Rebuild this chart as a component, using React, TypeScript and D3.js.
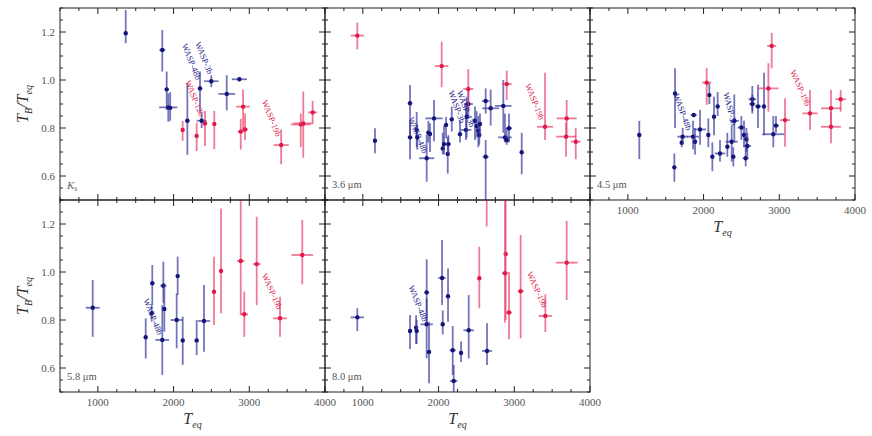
import * as d3 from 'd3';

// rows: [Teq, Teq error, Tb/Teq, lower bound, upper bound]
const ksBlue = [
  [1368, 20, 1.195, 1.153, 1.292],
  [1851, 40, 1.125, 1.035, 1.208],
  [1909, 20, 0.961, 0.875, 1.035],
  [1930, 120, 0.886, 0.826, 0.944],
  [1955, 30, 0.884, 0.83, 0.95],
  [2182, 30, 0.83, 0.688, 0.987],
  [2349, 30, 0.965, 0.862, 1.035],
  [2371, 66, 0.83, 0.8, 0.86],
  [2498, 95, 0.995, 0.97, 1.02],
  [2702, 110, 0.942, 0.874, 1.02],
  [2869, 100, 1.003, 0.995, 1.01],
];
const ksRed = [
  [2120, 15, 0.792, 0.746, 0.829],
  [2305, 15, 0.767, 0.704, 0.822],
  [2415, 25, 0.819, 0.725, 0.871],
  [2538, 15, 0.817, 0.712, 0.871],
  [2887, 40, 0.785, 0.71, 0.838],
  [2918, 90, 0.889, 0.79, 0.96],
  [2944, 40, 0.794, 0.75, 0.86],
  [3421, 100, 0.729, 0.649, 0.794],
  [3680, 130, 0.815, 0.72, 0.86],
  [3713, 130, 0.819, 0.676, 0.952],
  [3837, 60, 0.865, 0.82, 0.913],
];
const i36Blue = [
  [1160, 10, 0.747, 0.695, 0.799],
  [1623, 15, 0.903, 0.771, 0.979],
  [1623, 10, 0.761, 0.67, 0.83],
  [1711, 10, 0.792, 0.72, 0.867],
  [1719, 15, 0.761, 0.71, 0.815],
  [1843, 100, 0.674, 0.576, 0.771],
  [1865, 15, 0.78, 0.74, 0.83],
  [1887, 15, 0.775, 0.7, 0.82],
  [1940, 115, 0.84, 0.745, 0.917],
  [2055, 10, 0.715, 0.69, 0.78],
  [2072, 10, 0.733, 0.69, 0.81],
  [2099, 15, 0.813, 0.757, 0.847],
  [2121, 10, 0.692, 0.61, 0.763],
  [2130, 30, 0.733, 0.69, 0.77],
  [2174, 15, 0.836, 0.785, 0.889],
  [2283, 15, 0.774, 0.74, 0.83],
  [2362, 70, 0.792, 0.75, 0.9],
  [2371, 15, 0.847, 0.76, 0.93],
  [2393, 60, 0.9, 0.85, 0.965],
  [2481, 15, 0.83, 0.75, 0.89],
  [2503, 15, 0.808, 0.76, 0.87],
  [2525, 15, 0.789, 0.72, 0.85],
  [2538, 15, 0.771, 0.73, 0.82],
  [2547, 15, 0.817, 0.76, 0.86],
  [2622, 50, 0.9125, 0.86, 0.965],
  [2688, 110, 0.882, 0.81, 0.96],
  [2622, 40, 0.68, 0.44, 0.75],
  [2855, 110, 0.892, 0.78, 1.0],
  [2877, 90, 0.761, 0.74, 0.86],
  [2900, 40, 0.75, 0.73, 0.8],
  [2930, 40, 0.799, 0.74, 0.86],
  [3098, 20, 0.699, 0.607, 0.78],
];
const i36Red = [
  [927, 88, 1.185, 1.128, 1.239],
  [2041, 88, 1.058, 0.97, 1.16],
  [2393, 66, 0.9625, 0.875, 1.045],
  [2900, 66, 0.983, 0.917, 1.039],
  [3406, 106, 0.805, 0.75, 1.03],
  [3692, 132, 0.84, 0.764, 0.917],
  [3684, 132, 0.764, 0.68, 0.823],
  [3812, 66, 0.743, 0.67, 0.8],
];
const i45Blue = [
  [1151, 10, 0.771, 0.67, 0.83],
  [1623, 15, 0.944, 0.8, 1.049],
  [1614, 10, 0.636, 0.576, 0.694],
  [1711, 15, 0.739, 0.72, 0.77],
  [1724, 70, 0.764, 0.73, 0.8],
  [1870, 40, 0.854, 0.845, 0.86],
  [1861, 80, 0.764, 0.71, 0.83],
  [1887, 15, 0.743, 0.69, 0.8],
  [1953, 80, 0.794, 0.73, 0.875],
  [2063, 15, 0.771, 0.72, 0.84],
  [2076, 15, 0.937, 0.9, 0.986],
  [2116, 15, 0.68, 0.62, 0.74],
  [2138, 15, 0.847, 0.77, 0.93],
  [2186, 15, 0.89, 0.85, 0.95],
  [2217, 70, 0.694, 0.66, 0.75],
  [2314, 15, 0.722, 0.68, 0.78],
  [2371, 80, 0.743, 0.66, 0.81],
  [2406, 60, 0.83, 0.74, 0.94],
  [2393, 15, 0.68, 0.64, 0.72],
  [2499, 50, 0.802, 0.75, 0.85],
  [2534, 15, 0.771, 0.72, 0.83],
  [2565, 15, 0.753, 0.7, 0.8],
  [2578, 50, 0.725, 0.68, 0.78],
  [2556, 40, 0.674, 0.64, 0.72],
  [2644, 50, 0.92, 0.87, 0.975],
  [2644, 40, 0.9, 0.86, 0.94],
  [2719, 40, 0.89, 0.8, 0.98],
  [2798, 15, 0.89, 0.77, 1.03],
  [2921, 145, 0.774, 0.72, 0.85],
  [2956, 40, 0.81, 0.78, 0.85],
];
const i45Red = [
  [2041, 60, 0.989, 0.896, 1.049],
  [2900, 60, 1.142, 1.049, 1.196],
  [2856, 132, 0.965, 0.868, 1.07],
  [3076, 66, 0.833, 0.722, 0.924],
  [3406, 100, 0.861, 0.792, 0.958],
  [3683, 132, 0.882, 0.812, 0.958],
  [3683, 132, 0.805, 0.736, 0.868],
  [3811, 70, 0.92, 0.868, 0.958],
];
const i58Blue = [
  [932, 92, 0.851, 0.73, 0.967],
  [1632, 10, 0.728, 0.64, 0.807],
  [1711, 15, 0.828, 0.793, 0.862],
  [1719, 15, 0.953, 0.862, 1.029],
  [1851, 90, 0.717, 0.571, 0.862],
  [1865, 40, 0.943, 0.87, 1.043],
  [1878, 15, 0.846, 0.751, 0.953],
  [2041, 80, 0.8, 0.682, 0.911],
  [2054, 10, 0.983, 0.904, 1.064],
  [2121, 20, 0.715, 0.613, 0.814],
  [2305, 20, 0.715, 0.654, 0.8],
  [2402, 80, 0.796, 0.668, 0.946],
];
const i58Red = [
  [2534, 15, 0.918, 0.779, 1.064],
  [2627, 20, 1.004, 0.828, 1.265],
  [2887, 50, 1.046, 0.82, 1.34],
  [2934, 50, 0.824, 0.73, 0.918],
  [3098, 50, 1.033, 0.862, 1.23],
  [3406, 90, 0.807, 0.73, 0.897],
  [3700, 143, 1.071, 0.949, 1.217],
];
const i80Blue = [
  [927, 88, 0.811, 0.754, 0.849],
  [1623, 15, 0.754, 0.679, 0.821],
  [1703, 15, 0.768, 0.7, 0.82],
  [1711, 15, 0.754, 0.7, 0.8],
  [1843, 30, 0.915, 0.793, 1.053],
  [1843, 80, 0.782, 0.64, 0.89],
  [1874, 15, 0.667, 0.536, 0.793],
  [2046, 50, 0.975, 0.862, 1.133],
  [2055, 15, 0.782, 0.74, 0.84],
  [2125, 15, 0.899, 0.793, 1.015],
  [2187, 40, 0.674, 0.571, 0.775],
  [2200, 50, 0.546, 0.48, 0.6125],
  [2297, 15, 0.663, 0.625, 0.71],
  [2398, 70, 0.757, 0.64, 0.904],
  [2640, 66, 0.671, 0.6125, 0.786],
];
const i80Red = [
  [2538, 15, 0.974, 0.849, 1.105],
  [2886, 20, 1.075, 0.8, 1.36],
  [2877, 40, 0.995, 0.79, 1.32],
  [2930, 40, 0.831, 0.72, 1.0],
  [3084, 40, 0.92, 0.724, 1.154],
  [3410, 90, 0.817, 0.75, 0.907],
  [3692, 143, 1.039, 0.883, 1.2125],
  [2636, 10, 1.36, 1.19, 1.5],
];

// planet labels: [Teq, value, colour, text, angle]
const ksNotes = [
  [2107, 1.146, 'blue', 'WASP-48b', 68],
  [2283, 1.153, 'blue', 'WASP-3b', 68],
  [2151, 0.993, 'red', 'WASP-12b', 68],
  [3164, 0.91, 'red', 'WASP-19b', 68],
];
const i36Notes = [
  [1600, 0.84, 'blue', 'WASP-48b', 68],
  [2129, 0.951, 'blue', 'WASP-3b', 70],
  [2240, 0.951, 'blue', 'WASP-43b', 70],
  [3142, 0.979, 'red', 'WASP-19b', 68],
];
const i45Notes = [
  [1600, 0.9375, 'blue', 'WASP-48b', 70],
  [2261, 0.945, 'blue', 'WASP-3b', 76],
  [3142, 1.035, 'red', 'WASP-19b', 66],
];
const i58Notes = [
  [1600, 0.883, 'blue', 'WASP-48b', 68],
  [3164, 0.9875, 'red', 'WASP-19b', 66],
];
const i80Notes = [
  [1600, 0.939, 'blue', 'WASP-48b', 68],
  [3164, 0.995, 'red', 'WASP-19b', 66],
];

const xTickLabels = [1000, 2000, 3000, 4000];
const yTickLabels = [0.6, 0.8, 1.0, 1.2];

const panels = [
  { band: 'Ks', blue: ksBlue, red: ksRed, notes: ksNotes, col: 0, row: 0, yLab: true, xLab: false },
  { band: '3.6 μm', blue: i36Blue, red: i36Red, notes: i36Notes, col: 1, row: 0, yLab: false, xLab: false },
  { band: '4.5 μm', blue: i45Blue, red: i45Red, notes: i45Notes, col: 2, row: 0, yLab: false, xLab: true },
  { band: '5.8 μm', blue: i58Blue, red: i58Red, notes: i58Notes, col: 0, row: 1, yLab: true, xLab: true },
  { band: '8.0 μm', blue: i80Blue, red: i80Red, notes: i80Notes, col: 1, row: 1, yLab: false, xLab: true },
];

const W = 872;
const H = 436;
const PW = 265;
const PH = 192;
const lefts = [60, 325, 590];
const tops = [8, 200];

const x = d3.scaleLinear().domain([500, 4000]).range([0, PW]);
const y = d3.scaleLinear().domain([0.5, 1.3]).range([PH, 0]);

const xMinor = d3.range(500, 4001, 250);
const yMinor = d3.range(0.5, 1.301, 0.05);

const colours = {
  blue: { dot: '#14147a', bar: '#3b3b9e', text: '#1c1c8a' },
  red: { dot: '#e0184a', bar: '#e8406a', text: '#e0184a' },
};

const serif = '"Liberation Serif", "DejaVu Serif", serif';

function Points({ rows, c }) {
  const col = colours[c];
  return (
    <g>
      {rows.map((d, i) => (
        <g key={i}>
          <line x1={x(d[0])} x2={x(d[0])} y1={y(d[3])} y2={y(d[4])}
            stroke={col.bar} strokeWidth={1.8} strokeOpacity={0.7} />
          {d[1] > 0 && (
            <line x1={x(d[0] - d[1])} x2={x(d[0] + d[1])} y1={y(d[2])} y2={y(d[2])}
              stroke={col.bar} strokeWidth={1.8} strokeOpacity={0.7} />
          )}
          <circle cx={x(d[0])} cy={y(d[2])} r={2.2} fill={col.dot} />
        </g>
      ))}
    </g>
  );
}

function Band({ band }) {
  if (band === 'Ks') {
    return (
      <text x={7} y={PH - 11} fontFamily={serif} fontSize={11} fill="#666" fontStyle="italic">
        K<tspan fontSize={8} dy={2}>s</tspan>
      </text>
    );
  }
  return (
    <text x={7} y={PH - 12} fontFamily={serif} fontSize={10.5} fill="#555">
      {band}
    </text>
  );
}

function Panel({ p, idx }) {
  const id = `clip${idx}`;
  return (
    <g transform={`translate(${lefts[p.col]},${tops[p.row]})`}>
      <defs>
        <clipPath id={id}>
          <rect x={0} y={0} width={PW} height={PH} />
        </clipPath>
      </defs>
      <g clipPath={`url(#${id})`}>
        <Points rows={p.blue} c="blue" />
        <Points rows={p.red} c="red" />
        {p.notes.map((n, i) => (
          <text key={i} transform={`translate(${x(n[0])},${y(n[1])}) rotate(${n[4]})`}
            fontFamily={serif} fontSize={8.5} fill={colours[n[2]].text}>
            {n[3]}
          </text>
        ))}
      </g>
      <Band band={p.band} />
      <rect x={0} y={0} width={PW} height={PH} fill="none" stroke="#222" strokeWidth={1} />
      {xMinor.map((t) => {
        const major = t % 1000 === 0;
        const len = major ? 6 : 3;
        return (
          <g key={`x${t}`} stroke="#222" strokeWidth={1}>
            <line x1={x(t)} x2={x(t)} y1={PH} y2={PH - len} />
            <line x1={x(t)} x2={x(t)} y1={0} y2={len} />
          </g>
        );
      })}
      {yMinor.map((t) => {
        const major = yTickLabels.some((v) => Math.abs(v - t) < 1e-6);
        const len = major ? 6 : 3;
        return (
          <g key={`y${t.toFixed(2)}`} stroke="#222" strokeWidth={1}>
            <line x1={0} x2={len} y1={y(t)} y2={y(t)} />
            <line x1={PW} x2={PW - len} y1={y(t)} y2={y(t)} />
          </g>
        );
      })}
      {p.yLab && yTickLabels.map((t) => (
        <text key={`yl${t}`} x={-5} y={y(t) + 4} textAnchor="end" fontFamily={serif}
          fontSize={11} fill="#555">
          {d3.format('.1f')(t)}
        </text>
      ))}
      {p.xLab && xTickLabels.map((t) => (
        <text key={`xl${t}`} x={x(t)} y={PH + 14} textAnchor="middle" fontFamily={serif}
          fontSize={11} fill="#555">
          {t}
        </text>
      ))}
      {p.xLab && (
        <text x={PW / 2} y={PH + 32} textAnchor="middle" fontFamily={serif} fontSize={16}
          fontStyle="italic" fill="#333">
          T<tspan fontSize={10} dy={4}>eq</tspan>
        </text>
      )}
      {p.yLab && (
        <text transform={`translate(-32,${PH / 2}) rotate(-90)`} textAnchor="middle"
          fontFamily={serif} fontSize={16} fontStyle="italic" fill="#333">
          T<tspan fontSize={10} dy={4}>B</tspan>
          <tspan dy={-4}>/T</tspan>
          <tspan fontSize={10} dy={4}>eq</tspan>
        </text>
      )}
    </g>
  );
}

export default function App() {
  return (
    <div style={{ position: 'absolute', left: 0, top: 0 }}>
      <svg width={W} height={H} viewBox={`0 0 ${W} ${H}`} style={{ display: 'block', background: '#fff' }}>
        {panels.map((p, i) => (
          <Panel key={p.band} p={p} idx={i} />
        ))}
      </svg>
    </div>
  );
}
